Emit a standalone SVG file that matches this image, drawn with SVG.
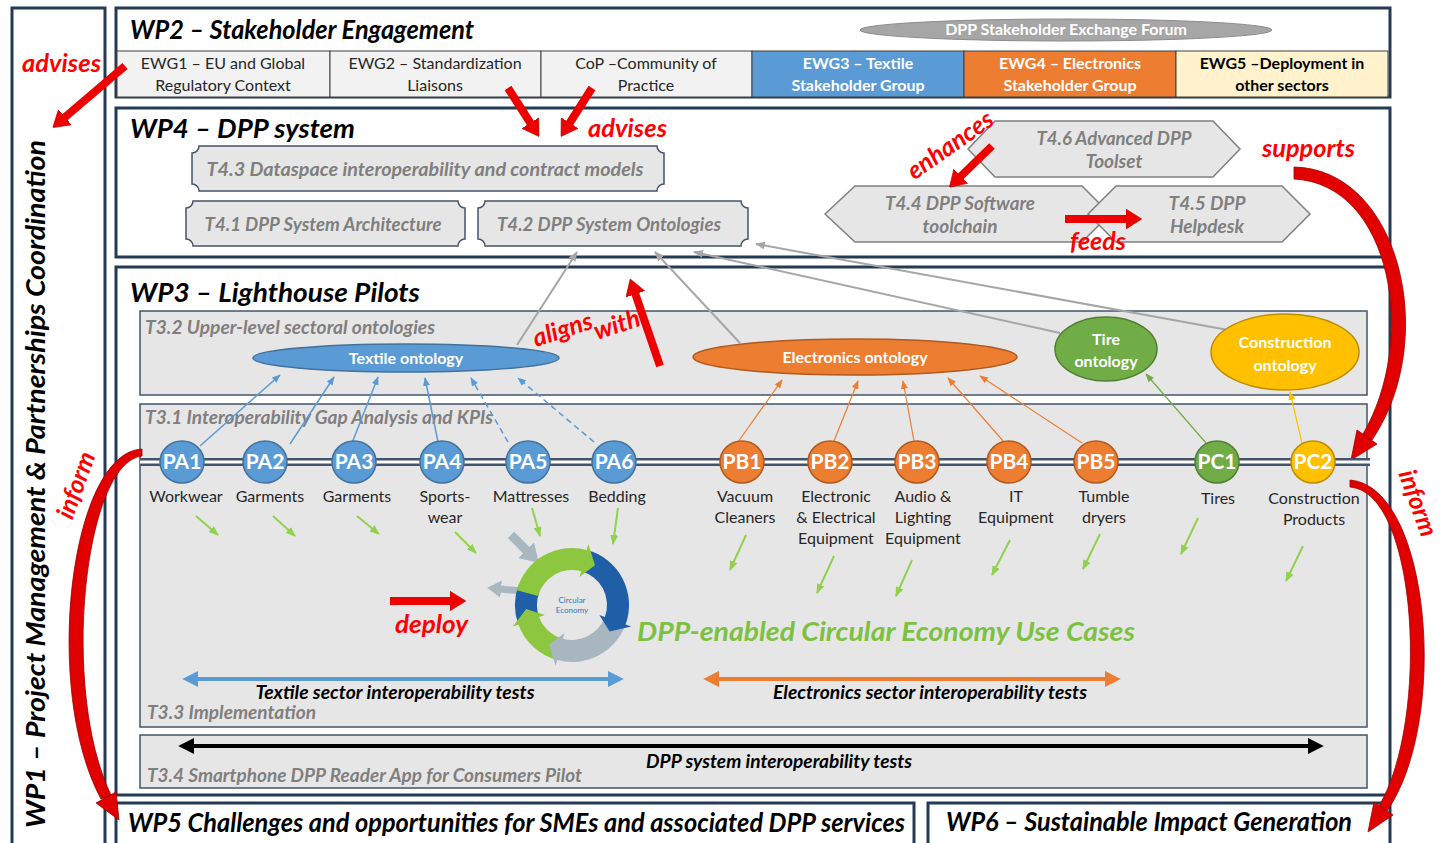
<svg xmlns="http://www.w3.org/2000/svg" width="1442" height="843" viewBox="0 0 1442 843">
  <style>
    text { font-family: Lato, "Open Sans", "Liberation Sans", sans-serif; }
    .wp { fill: #fff; stroke: #243b55; stroke-width: 3; }
    .h { font-weight: 700; font-style: italic; font-size: 27px; fill: #000; }
    .red { fill: #ff0000; font-weight: 700; font-style: italic; font-size: 25px; }
    .task { fill: #7f7f7f; font-weight: 700; font-style: italic; font-size: 19px; text-anchor: middle; }
    .sub { fill: #7f7f7f; font-weight: 700; font-style: italic; font-size: 18px; }
    .plaque { fill: #e7e6e6; stroke: #44546a; stroke-width: 1.5; }
    .hex { fill: #e7e6e6; stroke: #7f7f7f; stroke-width: 1.5; }
    .gbox { fill: #e7e6e6; stroke: #44546a; stroke-width: 1.5; }
    .ewg { font-size: 16px; fill: #262626; text-anchor: middle; }
    .ewgb { font-size: 16px; font-weight: 700; text-anchor: middle; }
    .node { fill: #fff; font-weight: 700; font-size: 21px; text-anchor: middle; }
    .lbl { font-size: 16px; fill: #262626; text-anchor: middle; }
    .ont { fill: #fff; font-weight: 700; font-size: 16px; text-anchor: middle; }
    .test { font-weight: 700; font-style: italic; font-size: 18px; fill: #000; text-anchor: middle; }
    .redarrow { stroke: #ee0000; stroke-width: 8; fill: none; marker-end: url(#redHead); }
    .blue { stroke: #5b9bd5; stroke-width: 1.5; fill: none; marker-end: url(#hBlue); }
    .orange { stroke: #ed7d31; stroke-width: 1.2; fill: none; marker-end: url(#hOrange); }
    .grayc { stroke: #a6a6a6; stroke-width: 2; fill: none; marker-end: url(#hGray); }
    .lime { stroke: #92d050; stroke-width: 2; fill: none; marker-end: url(#hLime); }
  </style>
  <defs>
    <marker id="redHead" viewBox="0 0 4 5" refX="0.3" refY="2.5" markerWidth="2" markerHeight="2.5" orient="auto" markerUnits="strokeWidth">
      <path d="M0,0 L4,2.5 L0,5 Z" fill="#ee0000" stroke="#b00000" stroke-width="0.15"/>
    </marker>
    <marker id="hBlue" viewBox="0 0 10 8" refX="9" refY="4" markerWidth="9" markerHeight="7" orient="auto" markerUnits="userSpaceOnUse">
      <path d="M0,0 L10,4 L0,8 Z" fill="#5b9bd5"/>
    </marker>
    <marker id="hOrange" viewBox="0 0 10 8" refX="9" refY="4" markerWidth="9" markerHeight="7" orient="auto" markerUnits="userSpaceOnUse">
      <path d="M0,0 L10,4 L0,8 Z" fill="#ed7d31"/>
    </marker>
    <marker id="hGreen" viewBox="0 0 10 8" refX="9" refY="4" markerWidth="9" markerHeight="7" orient="auto" markerUnits="userSpaceOnUse">
      <path d="M0,0 L10,4 L0,8 Z" fill="#70ad47"/>
    </marker>
    <marker id="hYellow" viewBox="0 0 10 8" refX="9" refY="4" markerWidth="9" markerHeight="7" orient="auto" markerUnits="userSpaceOnUse">
      <path d="M0,0 L10,4 L0,8 Z" fill="#ffc000"/>
    </marker>
    <marker id="hGray" viewBox="0 0 10 8" refX="9" refY="4" markerWidth="10" markerHeight="8" orient="auto" markerUnits="userSpaceOnUse">
      <path d="M0,0 L10,4 L0,8 Z" fill="#a6a6a6"/>
    </marker>
    <marker id="hLime" viewBox="0 0 10 8" refX="9" refY="4" markerWidth="10" markerHeight="8" orient="auto" markerUnits="userSpaceOnUse">
      <path d="M0,0 L10,4 L0,8 Z" fill="#92d050"/>
    </marker>
    <marker id="hSteel" viewBox="0 0 4 5" refX="0.3" refY="2.5" markerWidth="2" markerHeight="2.5" orient="auto" markerUnits="strokeWidth">
      <path d="M0,0 L4,2.5 L0,5 Z" fill="#a9b7c0"/>
    </marker>
    <marker id="dBlue" viewBox="0 0 10 10" refX="2" refY="5" markerWidth="4" markerHeight="4" orient="auto-start-reverse" markerUnits="strokeWidth">
      <path d="M0,0 L10,5 L0,10 Z" fill="#5b9bd5"/>
    </marker>
    <marker id="dOrange" viewBox="0 0 10 10" refX="2" refY="5" markerWidth="4" markerHeight="4" orient="auto-start-reverse" markerUnits="strokeWidth">
      <path d="M0,0 L10,5 L0,10 Z" fill="#ed7d31"/>
    </marker>
    <marker id="dBlack" viewBox="0 0 10 10" refX="2" refY="5" markerWidth="4" markerHeight="4" orient="auto-start-reverse" markerUnits="strokeWidth">
      <path d="M0,0 L10,5 L0,10 Z" fill="#000"/>
    </marker>
  </defs>

  <rect width="1442" height="843" fill="#fff"/>

  <!-- WP1 column -->
  <g id="wp1">
    <rect class="wp" x="12" y="8" width="93" height="850"/>
    <text class="h" font-size="26" transform="translate(45,484) rotate(-90)" text-anchor="middle" textLength="688" lengthAdjust="spacingAndGlyphs">WP1 – Project Management &amp; Partnerships Coordination</text>
  </g>

  <!-- WP2 stakeholder engagement -->
  <g id="wp2">
    <rect class="wp" x="116" y="8" width="1274" height="89"/>
    <text class="h" x="130" y="39" font-size="25" textLength="344" lengthAdjust="spacingAndGlyphs">WP2 – Stakeholder Engagement</text>
    <g id="forum">
      <ellipse cx="1066" cy="30" rx="206" ry="11" fill="#a6a6a6" stroke="#8c8c8c"/>
      <text x="1066" y="35" font-size="16" font-weight="700" fill="#fff" text-anchor="middle">DPP Stakeholder Exchange Forum</text>
    </g>
    <g id="ewg1">
      <rect x="117" y="51" width="213" height="46" fill="#f2f2f2" stroke="#404040"/>
      <text class="ewg" x="223" y="69">EWG1 – EU and Global</text>
      <text class="ewg" x="223" y="91">Regulatory Context</text>
    </g>
    <g id="ewg2">
      <rect x="330" y="51" width="211" height="46" fill="#f2f2f2" stroke="#404040"/>
      <text class="ewg" x="435" y="69">EWG2 – Standardization</text>
      <text class="ewg" x="435" y="91">Liaisons</text>
    </g>
    <g id="cop">
      <rect x="541" y="51" width="211" height="46" fill="#f2f2f2" stroke="#404040"/>
      <text class="ewg" x="646" y="69">CoP –Community of</text>
      <text class="ewg" x="646" y="91">Practice</text>
    </g>
    <g id="ewg3">
      <rect x="752" y="51" width="212" height="46" fill="#5b9bd5" stroke="#404040"/>
      <text class="ewgb" x="858" y="69" fill="#fff">EWG3 – Textile</text>
      <text class="ewgb" x="858" y="91" fill="#fff">Stakeholder Group</text>
    </g>
    <g id="ewg4">
      <rect x="964" y="51" width="212" height="46" fill="#ed7d31" stroke="#404040"/>
      <text class="ewgb" x="1070" y="69" fill="#fff">EWG4 – Electronics</text>
      <text class="ewgb" x="1070" y="91" fill="#fff">Stakeholder Group</text>
    </g>
    <g id="ewg5">
      <rect x="1176" y="51" width="212" height="46" fill="#fff2cc" stroke="#404040"/>
      <text class="ewgb" x="1282" y="69" fill="#000">EWG5 –Deployment in</text>
      <text class="ewgb" x="1282" y="91" fill="#000">other sectors</text>
    </g>
  </g>

  <!-- WP4 DPP system -->
  <g id="wp4">
    <rect class="wp" x="116" y="108" width="1274" height="149"/>
    <text class="h" x="130" y="138" textLength="225" lengthAdjust="spacingAndGlyphs">WP4 – DPP system</text>
    <g id="t43">
      <path class="plaque" d="M199,146 H657 A7,7 0 0 0 664,153 V184 A7,7 0 0 0 657,191 H199 A7,7 0 0 0 192,184 V153 A7,7 0 0 0 199,146 Z"/>
      <text class="task" x="425" y="176" textLength="437" lengthAdjust="spacingAndGlyphs">T4.3 Dataspace interoperability and contract models</text>
    </g>
    <g id="t41">
      <path class="plaque" d="M193,201 H458 A7,7 0 0 0 465,208 V239 A7,7 0 0 0 458,246 H193 A7,7 0 0 0 186,239 V208 A7,7 0 0 0 193,201 Z"/>
      <text class="task" x="323" y="231" textLength="237" lengthAdjust="spacingAndGlyphs">T4.1 DPP System Architecture</text>
    </g>
    <g id="t42">
      <path class="plaque" d="M485,201 H741 A7,7 0 0 0 748,208 V239 A7,7 0 0 0 741,246 H485 A7,7 0 0 0 478,239 V208 A7,7 0 0 0 485,201 Z"/>
      <text class="task" x="609" y="231" textLength="224" lengthAdjust="spacingAndGlyphs">T4.2 DPP System Ontologies</text>
    </g>
    <g id="t46">
      <polygon class="hex" points="968,149 995,121 1213,121 1240,149 1213,177 995,177"/>
      <text class="task" x="1114" y="145" textLength="155" lengthAdjust="spacingAndGlyphs">T4.6 Advanced DPP</text>
      <text class="task" x="1114" y="168">Toolset</text>
    </g>
    <g id="t44">
      <polygon class="hex" points="825,214 855,186 1082,186 1110,214 1082,242 855,242"/>
      <text class="task" x="960" y="210" textLength="150" lengthAdjust="spacingAndGlyphs">T4.4 DPP Software</text>
      <text class="task" x="960" y="233">toolchain</text>
    </g>
    <g id="t45">
      <polygon class="hex" points="1088,214 1116,186 1282,186 1310,214 1282,242 1116,242"/>
      <text class="task" x="1207" y="210">T4.5 DPP</text>
      <text class="task" x="1207" y="233">Helpdesk</text>
    </g>
  </g>

  <!-- WP3 lighthouse pilots -->
  <g id="wp3">
    <rect class="wp" x="116" y="267" width="1274" height="528"/>
    <text class="h" x="130" y="302" textLength="290" lengthAdjust="spacingAndGlyphs">WP3 – Lighthouse Pilots</text>
    <rect id="t32" class="gbox" x="140" y="311" width="1227" height="84"/>
    <text class="sub" x="145" y="334" textLength="290" lengthAdjust="spacingAndGlyphs">T3.2 Upper-level sectoral ontologies</text>
    <rect id="t31" class="gbox" x="140" y="404" width="1227" height="323"/>
    <text class="sub" x="145" y="424" textLength="348" lengthAdjust="spacingAndGlyphs">T3.1 Interoperability Gap Analysis and KPIs</text>
    <text class="sub" x="147" y="719" textLength="169" lengthAdjust="spacingAndGlyphs">T3.3 Implementation</text>
    <rect id="t34" class="gbox" x="140" y="735" width="1227" height="53"/>
    <text class="sub" x="147" y="782" textLength="435" lengthAdjust="spacingAndGlyphs">T3.4 Smartphone DPP Reader App for Consumers Pilot</text>
  </g>

  <!-- WP5 / WP6 -->
  <g id="wp5">
    <rect class="wp" x="116" y="803" width="798" height="50"/>
    <text class="h" x="128" y="832" font-size="25" textLength="777" lengthAdjust="spacingAndGlyphs">WP5 Challenges and opportunities for SMEs and associated DPP services</text>
  </g>
  <g id="wp6">
    <rect class="wp" x="928" y="803" width="462" height="50"/>
    <text class="h" x="946" y="831" font-size="25" textLength="406" lengthAdjust="spacingAndGlyphs">WP6 – Sustainable Impact Generation</text>
  </g>

  <!-- connectors -->
  <g id="connectors">
    <!-- ontologies to T4.2 -->
    <line class="grayc" x1="517" y1="345" x2="577" y2="252"/>
    <line class="grayc" x1="740" y1="343" x2="655" y2="252"/>
    <line class="grayc" x1="1060" y1="333" x2="694" y2="252"/>
    <line class="grayc" x1="1228" y1="330" x2="756" y2="244"/>
    <!-- textile pilots to textile ontology -->
    <line class="blue" x1="200" y1="446" x2="280" y2="375"/>
    <line class="blue" x1="290" y1="444" x2="334" y2="377"/>
    <line class="blue" x1="352" y1="443" x2="378" y2="377"/>
    <line class="blue" x1="438" y1="442" x2="425" y2="378"/>
    <line class="blue" x1="508" y1="442" x2="471" y2="378" stroke-dasharray="6,4"/>
    <line class="blue" x1="594" y1="442" x2="518" y2="378" stroke-dasharray="6,4"/>
    <!-- electronics pilots to electronics ontology -->
    <line class="orange" x1="738" y1="442" x2="782" y2="380"/>
    <line class="orange" x1="834" y1="441" x2="858" y2="381"/>
    <line class="orange" x1="914" y1="441" x2="903" y2="381"/>
    <line class="orange" x1="1004" y1="442" x2="948" y2="378"/>
    <line class="orange" x1="1082" y1="443" x2="980" y2="376"/>
    <!-- other sectors -->
    <line x1="1206" y1="443" x2="1146" y2="374" stroke="#70ad47" stroke-width="1.2" marker-end="url(#hGreen)"/>
    <line x1="1302" y1="443" x2="1290" y2="392" stroke="#ffc000" stroke-width="1.2" marker-end="url(#hYellow)"/>

    <!-- pilot use-case arrows -->
    <line class="lime" x1="196" y1="516" x2="218" y2="535"/>
    <line class="lime" x1="273" y1="516" x2="295" y2="536"/>
    <line class="lime" x1="357" y1="516" x2="379" y2="534"/>
    <line class="lime" x1="455" y1="532" x2="476" y2="553"/>
    <line class="lime" x1="532" y1="508" x2="540" y2="536"/>
    <line class="lime" x1="618" y1="508" x2="613" y2="544"/>
    <line class="lime" x1="746" y1="535" x2="730" y2="570"/>
    <line class="lime" x1="834" y1="556" x2="817" y2="593"/>
    <line class="lime" x1="912" y1="560" x2="896" y2="596"/>
    <line class="lime" x1="1010" y1="540" x2="992" y2="575"/>
    <line class="lime" x1="1100" y1="534" x2="1083" y2="569"/>
    <line class="lime" x1="1198" y1="518" x2="1181" y2="554"/>
    <line class="lime" x1="1303" y1="546" x2="1286" y2="581"/>

    <!-- interoperability test ranges -->
    <line x1="195" y1="679" x2="611" y2="679" stroke="#5b9bd5" stroke-width="4" marker-start="url(#dBlue)" marker-end="url(#dBlue)"/>
    <line x1="716" y1="679" x2="1108" y2="679" stroke="#ed7d31" stroke-width="4" marker-start="url(#dOrange)" marker-end="url(#dOrange)"/>
    <line x1="191" y1="746" x2="1311" y2="746" stroke="#000" stroke-width="4" marker-start="url(#dBlack)" marker-end="url(#dBlack)"/>

    <!-- red relation arrows -->
    <line class="redarrow" x1="125" y1="66" x2="64" y2="118"/>
    <line class="redarrow" x1="508" y1="88" x2="531" y2="124"/>
    <line class="redarrow" x1="592" y1="88" x2="569" y2="124"/>
    <line class="redarrow" x1="992" y1="146" x2="960" y2="177"/>
    <line class="redarrow" x1="1065" y1="219" x2="1127" y2="219"/>
    <line class="redarrow" x1="660" y1="366" x2="635" y2="293"/>
    <line class="redarrow" x1="390" y1="601" x2="451" y2="601"/>

    <!-- curved red arrows -->
    <g id="supportsArrow" fill="#e00000" stroke="#a00000" stroke-width="0.8">
      <path d="M1294,167 C1400,169 1440,340 1372,440 L1363,434 C1418,340 1392,184 1294,179 Z"/>
      <polygon points="1377,444 1357,430 1351,460"/>
    </g>
    <g id="informLeft" fill="#e00000" stroke="#a00000" stroke-width="0.8">
      <path d="M142,449 C70,452 42,690 101,799 L111,795 C60,690 84,462 142,456 Z"/>
      <polygon points="116,792 96,803 119,820"/>
    </g>
    <g id="informRight" fill="#e00000" stroke="#a00000" stroke-width="0.8">
      <path d="M1350,480 C1430,486 1450,720 1387,811 L1379,806 C1430,720 1418,492 1350,487 Z"/>
      <polygon points="1393,815 1374,802 1368,832"/>
    </g>
  </g>

  <!-- ontologies -->
  <g id="textileOntology">
    <ellipse cx="406" cy="358" rx="153" ry="14" fill="#5b9bd5" stroke="#41719c" stroke-width="1.5"/>
    <text class="ont" x="406" y="364">Textile ontology</text>
  </g>
  <g id="electronicsOntology">
    <ellipse cx="855" cy="357" rx="162" ry="18" fill="#ed7d31" stroke="#ae5a21" stroke-width="1.5"/>
    <text class="ont" x="855" y="363">Electronics ontology</text>
  </g>
  <g id="tireOntology">
    <ellipse cx="1106" cy="349" rx="51" ry="32" fill="#70ad47" stroke="#507e32" stroke-width="1.5"/>
    <text class="ont" x="1106" y="345">Tire</text>
    <text class="ont" x="1106" y="367">ontology</text>
  </g>
  <g id="constructionOntology">
    <ellipse cx="1285" cy="352" rx="74" ry="38" fill="#ffc000" stroke="#bc8c00" stroke-width="1.5"/>
    <text class="ont" x="1285" y="348">Construction</text>
    <text class="ont" x="1285" y="371">ontology</text>
  </g>

  <!-- pilot line -->
  <g id="pilotLine">
    <line x1="140" y1="462" x2="1370" y2="462" stroke="#44546a" stroke-width="8"/>
    <line x1="140" y1="462" x2="1370" y2="462" stroke="#fff" stroke-width="3"/>
  </g>

  <!-- pilots -->
  <g id="PA1"><ellipse cx="182" cy="462" rx="22" ry="21" fill="#5b9bd5" stroke="#41719c" stroke-width="1.5"/><text class="node" x="182" y="469">PA1</text><text class="lbl" x="186" y="502">Workwear</text></g>
  <g id="PA2"><ellipse cx="265" cy="462" rx="22" ry="21" fill="#5b9bd5" stroke="#41719c" stroke-width="1.5"/><text class="node" x="265" y="469">PA2</text><text class="lbl" x="270" y="502">Garments</text></g>
  <g id="PA3"><ellipse cx="354" cy="462" rx="22" ry="21" fill="#5b9bd5" stroke="#41719c" stroke-width="1.5"/><text class="node" x="354" y="469">PA3</text><text class="lbl" x="357" y="502">Garments</text></g>
  <g id="PA4"><ellipse cx="442" cy="462" rx="22" ry="21" fill="#5b9bd5" stroke="#41719c" stroke-width="1.5"/><text class="node" x="442" y="469">PA4</text><text class="lbl" x="445" y="502">Sports-</text><text class="lbl" x="445" y="523">wear</text></g>
  <g id="PA5"><ellipse cx="528" cy="462" rx="22" ry="21" fill="#5b9bd5" stroke="#41719c" stroke-width="1.5"/><text class="node" x="528" y="469">PA5</text><text class="lbl" x="531" y="502">Mattresses</text></g>
  <g id="PA6"><ellipse cx="614" cy="462" rx="22" ry="21" fill="#5b9bd5" stroke="#41719c" stroke-width="1.5"/><text class="node" x="614" y="469">PA6</text><text class="lbl" x="617" y="502">Bedding</text></g>
  <g id="PB1"><ellipse cx="742" cy="462" rx="22" ry="21" fill="#ed7d31" stroke="#ae5a21" stroke-width="1.5"/><text class="node" x="742" y="469">PB1</text><text class="lbl" x="745" y="502">Vacuum</text><text class="lbl" x="745" y="523">Cleaners</text></g>
  <g id="PB2"><ellipse cx="830" cy="462" rx="22" ry="21" fill="#ed7d31" stroke="#ae5a21" stroke-width="1.5"/><text class="node" x="830" y="469">PB2</text><text class="lbl" x="836" y="502">Electronic</text><text class="lbl" x="836" y="523">&amp; Electrical</text><text class="lbl" x="836" y="544">Equipment</text></g>
  <g id="PB3"><ellipse cx="917" cy="462" rx="22" ry="21" fill="#ed7d31" stroke="#ae5a21" stroke-width="1.5"/><text class="node" x="917" y="469">PB3</text><text class="lbl" x="923" y="502">Audio &amp;</text><text class="lbl" x="923" y="523">Lighting</text><text class="lbl" x="923" y="544">Equipment</text></g>
  <g id="PB4"><ellipse cx="1009" cy="462" rx="22" ry="21" fill="#ed7d31" stroke="#ae5a21" stroke-width="1.5"/><text class="node" x="1009" y="469">PB4</text><text class="lbl" x="1016" y="502">IT</text><text class="lbl" x="1016" y="523">Equipment</text></g>
  <g id="PB5"><ellipse cx="1096" cy="462" rx="22" ry="21" fill="#ed7d31" stroke="#ae5a21" stroke-width="1.5"/><text class="node" x="1096" y="469">PB5</text><text class="lbl" x="1104" y="502">Tumble</text><text class="lbl" x="1104" y="523">dryers</text></g>
  <g id="PC1"><ellipse cx="1217" cy="462" rx="22" ry="21" fill="#70ad47" stroke="#507e32" stroke-width="1.5"/><text class="node" x="1217" y="469">PC1</text><text class="lbl" x="1218" y="504">Tires</text></g>
  <g id="PC2"><ellipse cx="1313" cy="462" rx="22" ry="21" fill="#ffc000" stroke="#bc8c00" stroke-width="1.5"/><text class="node" x="1313" y="469">PC2</text><text class="lbl" x="1314" y="504">Construction</text><text class="lbl" x="1314" y="525">Products</text></g>

  <!-- circular economy cycle -->
  <g id="circularEconomy">
    <line x1="511" y1="535" x2="527" y2="551" stroke="#a9b7c0" stroke-width="9" marker-end="url(#hSteel)"/>
    <line x1="522" y1="591" x2="500" y2="589" stroke="#a9b7c0" stroke-width="7" marker-end="url(#hSteel)"/>
    <path d="M518.4,624.5 A57,57 0 0 1 518.4,585.5 L539.1,593.0 A35,35 0 0 0 539.1,617.0 Z" fill="#1f5fa8"/>
    <path d="M557.3,660.1 A57,57 0 0 1 518.4,624.5 L512.8,626.5 L526.2,609.0 L544.8,614.9 L539.1,617.0 A35,35 0 0 0 562.9,638.8 Z" fill="#8dc63f"/>
    <path d="M625.6,624.5 A57,57 0 0 1 557.3,660.1 L555.7,665.9 L549,644.8 L564.5,633.0 L562.9,638.8 A35,35 0 0 0 604.9,617.0 Z" fill="#a7b6bf"/>
    <path d="M586.8,549.9 A57,57 0 0 1 625.6,624.5 L631.2,626.5 L609.7,631.4 L599.3,614.9 L604.9,617.0 A35,35 0 0 0 581.1,571.2 Z" fill="#1f5fa8"/>
    <path d="M516.9,590.2 A57,57 0 0 1 586.8,549.9 L588.3,544.1 L595,565.2 L579.5,577.0 L581.1,571.2 A35,35 0 0 0 538.2,595.9 Z" fill="#8dc63f"/>
    <text x="572" y="603" font-size="8" fill="#2e75b6" text-anchor="middle">Circular</text>
    <text x="572" y="613" font-size="8" fill="#2e75b6" text-anchor="middle">Economy</text>
  </g>

  <!-- labels -->
  <g id="labels">
    <text class="red" x="22" y="72" textLength="79" lengthAdjust="spacingAndGlyphs">advises</text>
    <text class="red" x="588" y="137" textLength="79" lengthAdjust="spacingAndGlyphs">advises</text>
    <text class="red" transform="translate(955,152) rotate(-35)" text-anchor="middle">enhances</text>
    <text class="red" x="1262" y="157" textLength="93" lengthAdjust="spacingAndGlyphs">supports</text>
    <text class="red" x="1070" y="250">feeds</text>
    <text class="red" font-size="22" transform="translate(536,347) rotate(-18)">aligns</text>
    <text class="red" font-size="20" transform="translate(597,340) rotate(-18)">with</text>
    <text class="red" x="395" y="633" textLength="73" lengthAdjust="spacingAndGlyphs">deploy</text>
    <text class="red" font-size="21" transform="translate(84,488) rotate(-70)" text-anchor="middle">inform</text>
    <text class="red" font-size="18" transform="translate(1410,506) rotate(70)" text-anchor="middle">inform</text>
    <text x="637" y="641" font-size="27" font-weight="700" font-style="italic" fill="#7cc142" textLength="498" lengthAdjust="spacingAndGlyphs">DPP-enabled Circular Economy Use Cases</text>
    <text class="test" x="395" y="699" textLength="279" lengthAdjust="spacingAndGlyphs">Textile sector interoperability tests</text>
    <text class="test" x="930" y="699" textLength="314" lengthAdjust="spacingAndGlyphs">Electronics sector interoperability tests</text>
    <text class="test" x="779" y="768" textLength="266" lengthAdjust="spacingAndGlyphs">DPP system interoperability tests</text>
  </g>
</svg>
